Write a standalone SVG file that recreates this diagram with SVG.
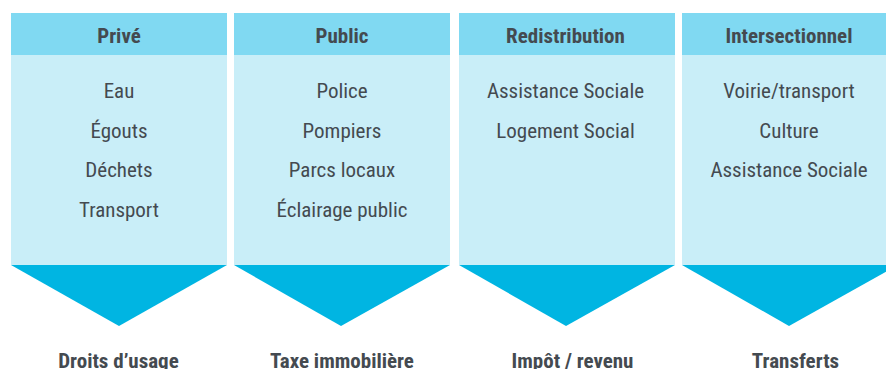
<svg xmlns="http://www.w3.org/2000/svg" width="886" height="369" viewBox="0 0 886 369">
<style>
.hd{fill:#80d9f2}
.bd{fill:#c9eef8}
.tri{fill:#00b5e2}
text{font-family:Roboto,"Noto Sans",sans-serif;font-stretch:condensed;fill:#444a50;text-anchor:middle}
.h{font-weight:bold;font-size:21px}
.t{font-size:21px}
.b{font-weight:bold;font-size:21px}
</style>
<g id="col-prive">
<rect class="hd" x="11" y="13" width="216" height="42"/>
<rect class="bd" x="11" y="55" width="216" height="210"/>
<polygon class="tri" points="11,265 227,265 119,326"/>
<text class="h" x="119" y="43">Privé</text>
<text class="t" x="119" y="98">Eau</text>
<text class="t" x="119" y="137.5">Égouts</text>
<text class="t" x="119" y="177">Déchets</text>
<text class="t" x="119" y="216.5">Transport</text>
<text class="b" x="118.5" y="367.5">Droits d’usage</text>
</g>
<g id="col-public">
<rect class="hd" x="234" y="13" width="216" height="42"/>
<rect class="bd" x="234" y="55" width="216" height="210"/>
<polygon class="tri" points="234,265 450,265 341,326"/>
<text class="h" x="342" y="43">Public</text>
<text class="t" x="342" y="98">Police</text>
<text class="t" x="342" y="137.5">Pompiers</text>
<text class="t" x="342" y="177">Parcs locaux</text>
<text class="t" x="342" y="216.5">Éclairage public</text>
<text class="b" x="342" y="367.5">Taxe immobilière</text>
</g>
<g id="col-redistribution">
<rect class="hd" x="459" y="13" width="216" height="42"/>
<rect class="bd" x="459" y="55" width="216" height="210"/>
<polygon class="tri" points="459,265 675,265 566,326"/>
<text class="h" x="565.5" y="43">Redistribution</text>
<text class="t" x="565.5" y="98">Assistance Sociale</text>
<text class="t" x="565.5" y="137.5">Logement Social</text>
<text class="b" x="572.5" y="367.5">Impôt / revenu</text>
</g>
<g id="col-intersectionnel">
<rect class="hd" x="682" y="13" width="216" height="42"/>
<rect class="bd" x="682" y="55" width="216" height="210"/>
<polygon class="tri" points="682,265 898,265 789,326"/>
<text class="h" x="789" y="43">Intersectionnel</text>
<text class="t" x="789" y="98">Voirie/transport</text>
<text class="t" x="789" y="137.5">Culture</text>
<text class="t" x="789" y="177">Assistance Sociale</text>
<text class="b" x="795.5" y="367.5">Transferts</text>
</g>
<g id="connectors"/>
</svg>
